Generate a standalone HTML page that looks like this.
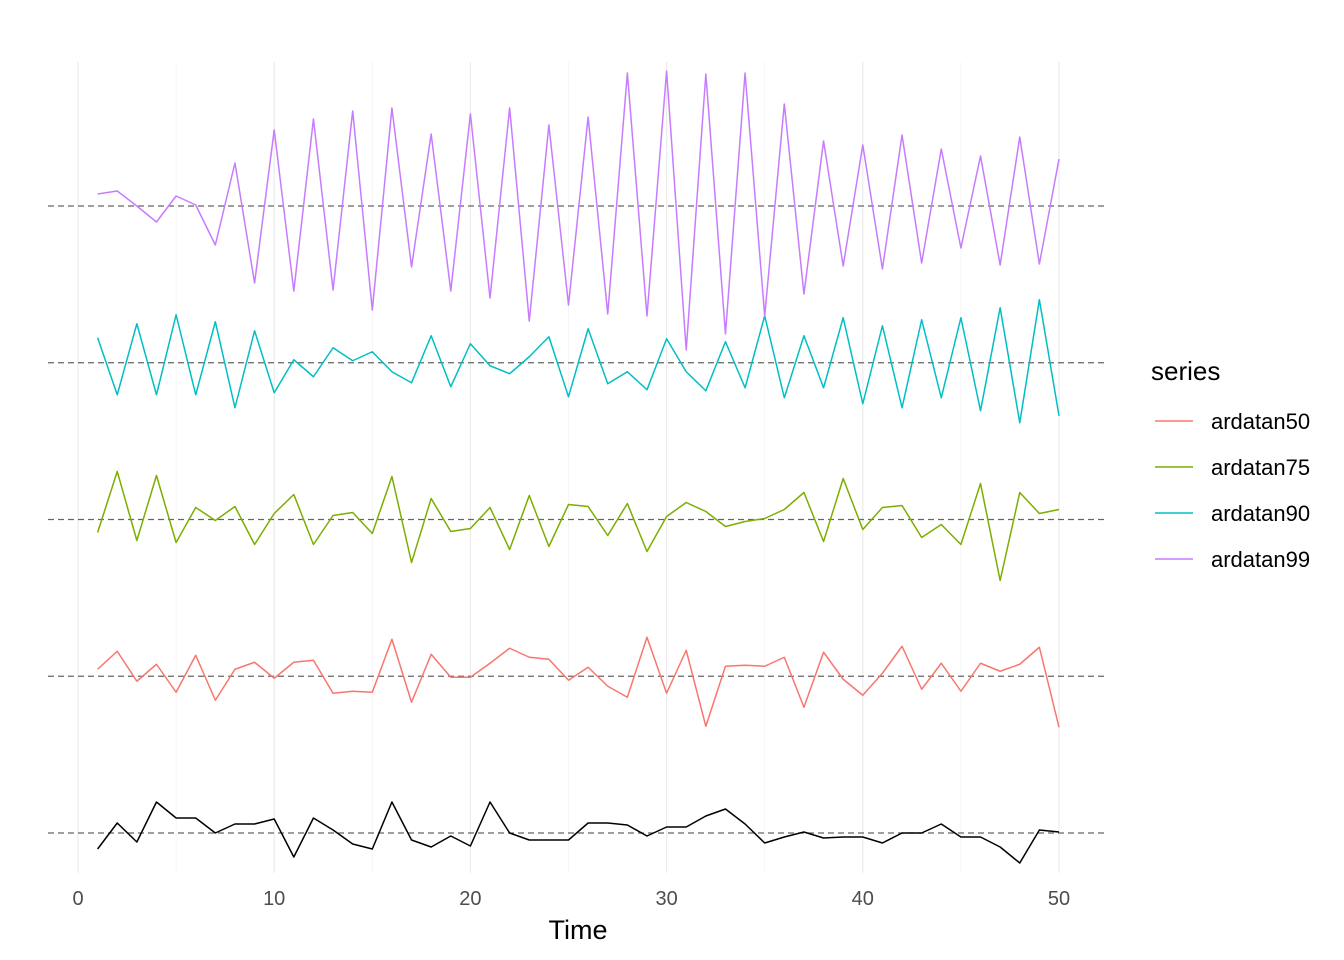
<!DOCTYPE html>
<html><head><meta charset="utf-8"><style>body{margin:0;background:#fff}svg{display:block}text{font-family:"Liberation Sans",sans-serif}</style></head>
<body>
<svg id="chart" width="1344" height="960" xmlns="http://www.w3.org/2000/svg"></svg>
<script>
const seriesNames=["black","ardatan50","ardatan75","ardatan90","ardatan99"];
const seriesColors=["#000000","#F8766D","#7CAE00","#00BFC4","#C77CFF"];
const baselines=[0,1,2,3,4];
const xTicks=[0,10,20,30,40,50];
const vBlack=[-16,10,-9,31,15,15,0,9,9,14,-24,15,3,-11,-16,31,-7,-14,-3,-13,31,0,-7,-7,-7,10,10,8,-3,6,6,17,24,9,-10,-4,1,-5,-4,-4,-10,0,0,9,-4,-4,-14,-30,3,1];
const v50=[7,25,-5,12,-16,21,-24,7,14,-2,14,16,-17,-15,-16,37,-26,22,-1,-1,13,28,19,17,-4,9,-10,-21,39,-17,26,-50,10,11,10,19,-31,24,-3,-19,3,30,-13,13,-15,13,5,12,29,-51];
const v75=[-13,48,-21,44,-23,12,-1,13,-25,6,25,-25,4,7,-14,43,-43,21,-12,-9,12,-30,24,-27,15,13,-16,16,-32,3,17,8,-7,-2,1,10,27,-22,41,-10,12,14,-18,-5,-25,36,-61,27,6,10];
const v90=[25,-32,39,-32,48,-32,41,-45,32,-30,3,-14,15,2,11,-9,-20,27,-24,19,-3,-11,6,26,-34,34,-21,-9,-27,24,-9,-28,21,-25,47,-35,27,-25,45,-41,37,-45,43,-35,45,-48,55,-60,63,-53];
const v99=[12,15,0,-16,10,1,-39,43,-77,76,-85,87,-84,95,-104,98,-61,72,-85,92,-92,98,-115,81,-99,89,-108,133,-110,135,-144,132,-128,133,-110,102,-88,65,-60,61,-63,71,-57,57,-42,50,-59,69,-58,47];
const allValues=[vBlack,v50,v75,v90,v99];
const NS="http://www.w3.org/2000/svg";
const svg=document.getElementById('chart');
const xs=t=>78+t*(1059-78)/50;
const baseY=b=>833-b*156.75;
const ys=(b,v)=>baseY(b)-v;
function mk(tag,attrs){const e=document.createElementNS(NS,tag);for(const k in attrs)e.setAttribute(k,attrs[k]);svg.appendChild(e);return e;}
for(let t=0;t<=50;t+=5){const l=mk('line',{x1:xs(t),x2:xs(t),y1:62,y2:873,stroke:t%10===0?'#ebebeb':'#f3f3f3','stroke-width':t%10===0?1.2:0.8});

}
baselines.forEach((b,i)=>{const l=mk('line',{x1:48,x2:1108,y1:baseY(b),y2:baseY(b),stroke:'#666','stroke-width':1.2,'stroke-dasharray':'6,4'});

});
allValues.forEach((vals,i)=>{const pts=vals.map((v,j)=>xs(j+1)+','+ys(baselines[i],v)).join(' ');
const p=mk('polyline',{points:pts,fill:'none',stroke:seriesColors[i],'stroke-width':1.5,'stroke-linejoin':'round'});

});
xTicks.forEach(t=>{const tx=mk('text',{x:xs(t),y:905,'text-anchor':'middle','font-size':20,fill:'#4d4d4d'});tx.textContent=t;

});
const xt=mk('text',{x:578,y:939,'text-anchor':'middle','font-size':27,fill:'#000'});xt.textContent='Time';


const lt=mk('text',{x:1151,y:380,'font-size':26,fill:'#000'});lt.textContent='series';


for(let i=1;i<5;i++){const y=421+(i-1)*46;
const l=mk('line',{x1:1155,x2:1193,y1:y,y2:y,stroke:seriesColors[i],'stroke-width':1.5});


const tx=mk('text',{x:1211,y:y+8,'font-size':22,fill:'#000'});tx.textContent=seriesNames[i];

}
</script>
</body></html>
